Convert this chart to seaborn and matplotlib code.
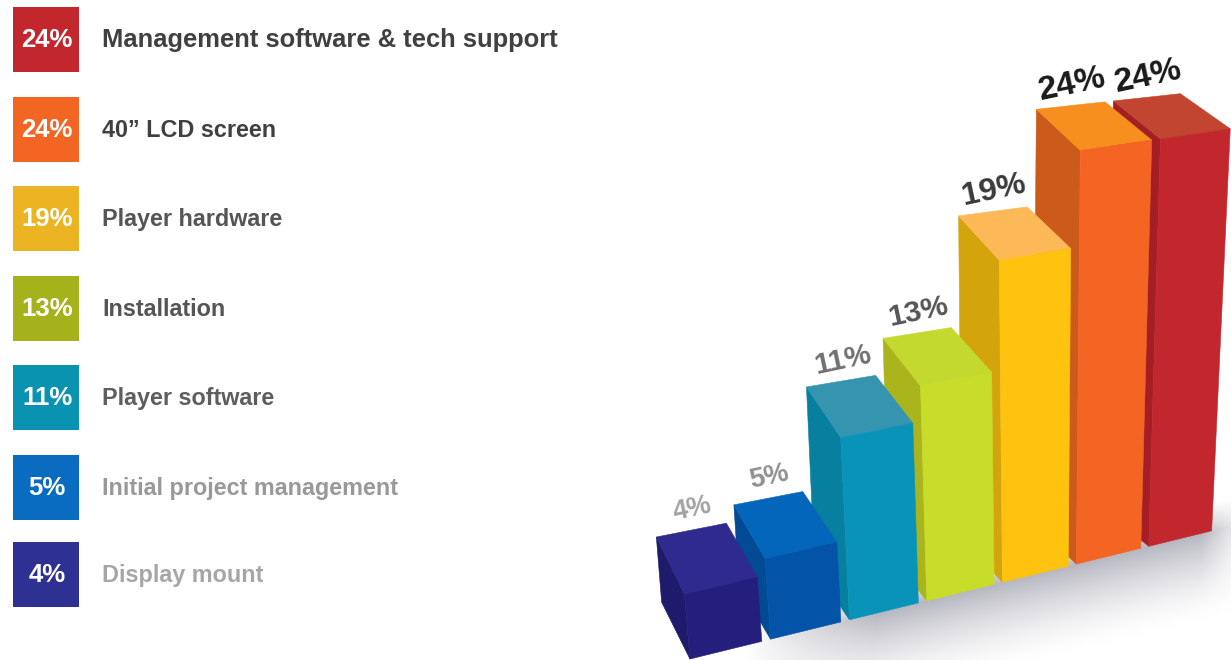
import numpy as np
import pandas as pd
import matplotlib
matplotlib.use('Agg')
import matplotlib.pyplot as plt
import seaborn as sns
from matplotlib.patches import Rectangle
from matplotlib.transforms import Transform

# data, left to right on the chart
items = ['Display mount', 'Initial project management', 'Player software', 'Installation',
         'Player hardware', '40\u201d LCD screen', 'Management software & tech support']
shares = [4, 5, 11, 13, 19, 24, 24]

front_colors = ['#241f7c', '#0354a8', '#0a93b8', '#c8dc2a', '#ffc20e', '#f46524', '#c1272d']
top_colors = ['#2e2a8e', '#0466ba', '#3595b0', '#c4d930', '#fdb858', '#f78f1e', '#c1452f']
side_colors = ['#1e1a6c', '#034a94', '#077f9e', '#aab51e', '#d4a40c', '#cc5a1a', '#a51e26']
swatch_colors = ['#2e3192', '#0a6cc0', '#0a93b0', '#a6b21c', '#ecb322', '#f26522', '#c1272d']
text_colors = ['#a6a6a6', '#999999', '#5e5e5e', '#555555', '#555555', '#404040', '#404040']
value_colors = ['#a3a3a3', '#909090', '#707070', '#555555', '#3a3a3a', '#1a1a1a', '#1a1a1a']
text_sizes = [16.85, 16.85, 16.85, 16.85, 16.85, 16.85, 18.4]
swatch_tops = [542, 455, 365, 276, 186, 97, 7]


def project(u, v, d=0.0):
    """(bar slot, value, depth) -> picture pixels, with the verticals converging downward"""
    u, v, d = np.asarray(u, float), np.asarray(v, float), np.asarray(d, float)
    xb = 726 + 80.7 * u - 0.83 * u ** 2
    yb = 659 - 0.2457 * (xb - 690)
    h = 14.74 * v + 0.11 * v ** 2
    x = xb + (xb - 1040) * 0.00026 * h
    y = yb - h * (1 - 0.000206 * (xb - 1036))
    lean = x - 683
    return x + d * (-28 - 0.04 * lean), y + d * (-57 + 0.04 * lean)


class FrontFace(Transform):
    input_dims = 2
    output_dims = 2

    def transform_non_affine(self, values):
        values = np.asarray(values)
        return np.column_stack(project(values[:, 0], values[:, 1]))


sns.set_theme(style='white')
plt.rcParams['font.family'] = ['Liberation Sans', 'DejaVu Sans']
plt.rcParams['font.weight'] = 'bold'

fig = plt.figure(figsize=(12.31, 6.6), dpi=100)
ax = fig.add_axes([0, 0, 1, 1])

df = pd.DataFrame({'item': items, 'share': shares})
sns.barplot(data=df, x='item', y='share', hue='item', palette=front_colors, saturation=1,
            width=0.89, legend=False, ax=ax)
ax.axis('off')

# floor shadow
yy, xx = np.mgrid[470:660, 700:1231]
below = yy - (659 - 0.2457 * (xx - 690))
fade = np.clip(1 - below / 88, 0, 1) ** 1.6 * np.clip((below + 28) / 28, 0, 1)
fade = fade * np.clip((xx - 745) / 130, 0, 1)
fade = fade * np.clip((1250 - xx) / 50, 0, 1)
shadow = np.zeros(yy.shape + (4,))
shadow[..., :3] = [0.72, 0.72, 0.76]
shadow[..., 3] = fade
ax.imshow(shadow, extent=(700, 1231, 660, 470), aspect='auto', zorder=1, interpolation='bilinear')
ax.set_xlim(0, 1231)
ax.set_ylim(660, 0)

front = FrontFace() + ax.transData
for i, bar in enumerate(ax.patches):
    left, right = bar.get_x(), bar.get_x() + bar.get_width()
    value = bar.get_height()
    z = 10 + 2 * (len(shares) - i)
    bar.set_transform(front)
    bar.set_zorder(z + 0.2)
    bar.set_edgecolor(front_colors[i])
    bar.set_linewidth(0.4)

    side = project([left, left, left, left], [0, 0, value, value], [0, 1, 1, 0])
    ax.fill(side[0], side[1], color=side_colors[i], lw=0.4, zorder=z)
    top = project([left, right, right, left], [value] * 4, [0, 0, 1, 1])
    ax.fill(top[0], top[1], color=top_colors[i], lw=0.4, zorder=z + 0.1)

    # value above the back edge of the top face
    lx, ly = project(i, value, 1)
    ax.text(lx + 1, ly - 21, f'{shares[i]}%', color=value_colors[i], fontsize=18.5 + 0.25 * value,
            rotation=12, rotation_mode='anchor', ha='center', va='center', zorder=40)

# legend column
for i, top_y in enumerate(swatch_tops):
    ax.add_patch(Rectangle((13, top_y), 66, 65, facecolor=swatch_colors[i], edgecolor='none', zorder=5))
    ax.text(47, top_y + 33, f'{shares[i]}%', color='white', fontsize=18.5, ha='center', va='center', zorder=6)
    ax.text(102, top_y + 33.5, items[i], color=text_colors[i], fontsize=text_sizes[i],
            ha='left', va='center', zorder=6)

fig.savefig('out.png', dpi=100, facecolor='white')
